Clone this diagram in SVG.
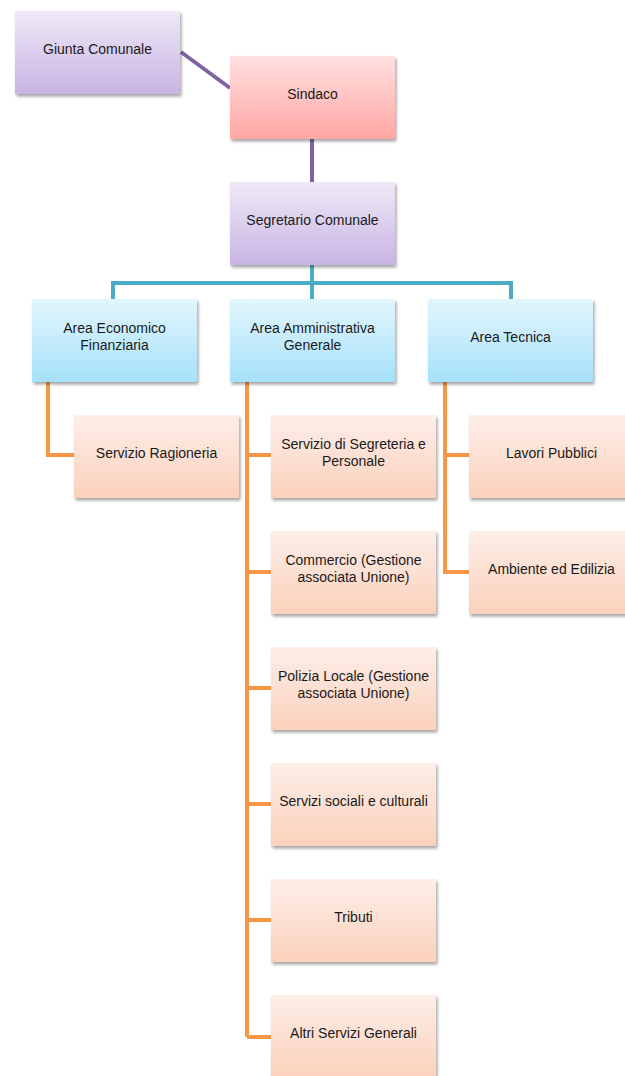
<svg xmlns="http://www.w3.org/2000/svg" width="625" height="1076" viewBox="0 0 625 1076">
<defs>
<linearGradient id="gPurple" x1="0" y1="0" x2="0" y2="1"><stop offset="0" stop-color="#EFE9F7"/><stop offset="1" stop-color="#C8B4E3"/></linearGradient>
<linearGradient id="gPink" x1="0" y1="0" x2="0" y2="1"><stop offset="0" stop-color="#FFE0E0"/><stop offset="1" stop-color="#FFA7A4"/></linearGradient>
<linearGradient id="gBlue" x1="0" y1="0" x2="0" y2="1"><stop offset="0" stop-color="#E3F6FD"/><stop offset="1" stop-color="#A6E1FA"/></linearGradient>
<linearGradient id="gPeach" x1="0" y1="0" x2="0" y2="1"><stop offset="0" stop-color="#FDEEE8"/><stop offset="1" stop-color="#FBD1BC"/></linearGradient>
<filter id="sh" x="-10%" y="-10%" width="125%" height="130%"><feDropShadow dx="1.5" dy="2.5" stdDeviation="1.8" flood-color="#000" flood-opacity="0.35"/></filter>
</defs>
<style>
text{font-family:"Liberation Sans",Arial,sans-serif;font-size:14px;fill:#1a1a1a;text-anchor:middle;}
.box{filter:url(#sh);}
.p{fill:url(#gPurple);} .k{fill:url(#gPink);} .b{fill:url(#gBlue);} .o{fill:url(#gPeach);}
.lp{stroke:#8064A2;stroke-width:4;fill:none;}
.lt{stroke:#4BACC6;stroke-width:4;fill:none;}
.lo{stroke:#F79646;stroke-width:4;fill:none;}
</style>
<rect width="625" height="1076" fill="#fff"/>
<g id="connectors">
<path class="lp" d="M181 52 L230 88"/>
<path class="lp" d="M312 139 V182"/>
<path class="lt" d="M312 265 V283 M113 299 V283 H511 V299 M312 283 V299"/>
<path class="lo" d="M48 382 V455 H74"/>
<path class="lo" d="M247 382 V1037 M247 455 H271 M247 572 H271 M247 688 H271 M247 804 H271 M247 920 H271 M247 1037 H271"/>
<path class="lo" d="M445 382 V572 H469 M445 455 H469"/>
</g>
<g id="giunta"><rect class="box p" x="15" y="11" width="165" height="83"/><text x="97.5" y="54">Giunta Comunale</text></g>
<g id="sindaco"><rect class="box k" x="230" y="56" width="165" height="83"/><text x="312.5" y="99">Sindaco</text></g>
<g id="segretario"><rect class="box p" x="230" y="182" width="165" height="83"/><text x="312.5" y="225">Segretario Comunale</text></g>
<g id="area-economico"><rect class="box b" x="32" y="299" width="165" height="83"/><text x="114.5" y="333">Area Economico</text><text x="114.5" y="350">Finanziaria</text></g>
<g id="area-amministrativa"><rect class="box b" x="230" y="299" width="165" height="83"/><text x="312.5" y="333">Area Amministrativa</text><text x="312.5" y="350">Generale</text></g>
<g id="area-tecnica"><rect class="box b" x="428" y="299" width="165" height="83"/><text x="510.5" y="342">Area Tecnica</text></g>
<g id="ragioneria"><rect class="box o" x="74" y="415" width="165" height="83"/><text x="156.5" y="458">Servizio Ragioneria</text></g>
<g id="segreteria"><rect class="box o" x="271" y="415" width="165" height="83"/><text x="353.5" y="449">Servizio di Segreteria e</text><text x="353.5" y="466">Personale</text></g>
<g id="commercio"><rect class="box o" x="271" y="531" width="165" height="83"/><text x="353.5" y="565">Commercio (Gestione</text><text x="353.5" y="582">associata Unione)</text></g>
<g id="polizia"><rect class="box o" x="271" y="647" width="165" height="83"/><text x="353.5" y="681">Polizia Locale (Gestione</text><text x="353.5" y="698">associata Unione)</text></g>
<g id="servizi-sociali"><rect class="box o" x="271" y="763" width="165" height="83"/><text x="353.5" y="806">Servizi sociali e culturali</text></g>
<g id="tributi"><rect class="box o" x="271" y="879" width="165" height="83"/><text x="353.5" y="922">Tributi</text></g>
<g id="altri"><rect class="box o" x="271" y="995" width="165" height="83"/><text x="353.5" y="1038">Altri Servizi Generali</text></g>
<g id="lavori"><rect class="box o" x="469" y="415" width="165" height="83"/><text x="551.5" y="458">Lavori Pubblici</text></g>
<g id="ambiente"><rect class="box o" x="469" y="531" width="165" height="83"/><text x="551.5" y="574">Ambiente ed Edilizia</text></g>
</svg>
